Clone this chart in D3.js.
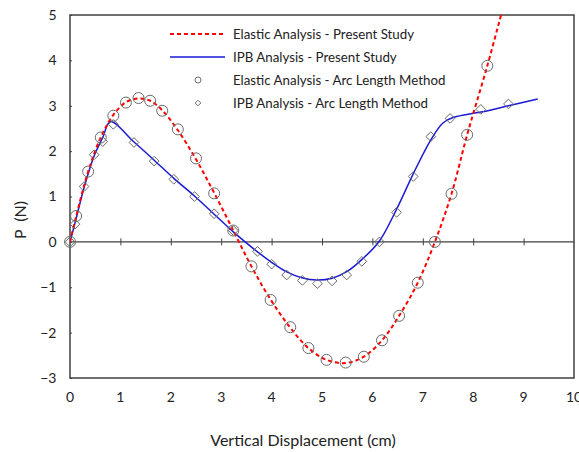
<!DOCTYPE html>
<html>
<head>
<meta charset="utf-8">
<script src="https://cdn.jsdelivr.net/npm/d3@7"></script>
<style>
    body { margin: 0; background: #fff; }
    text { font-family: Lato, "Open Sans", sans-serif; fill: #222; }
</style>
</head>
<body>
<div id="chart"></div>
<script>

// Elastic Analysis - Present Study (dashed red line)
const elasticLine = [
    [0, 0], [0.12, 0.55], [0.36, 1.55], [0.61, 2.3], [0.86, 2.8], [1.11, 3.08], [1.36, 3.16],
    [1.59, 3.11], [1.83, 2.9], [2.14, 2.46], [2.5, 1.82], [2.86, 1.08], [3.24, 0.25],
    [3.6, -0.54], [3.98, -1.27], [4.37, -1.89], [4.73, -2.34], [5.09, -2.6], [5.47, -2.67],
    [5.83, -2.53], [6.19, -2.17], [6.53, -1.63], [6.9, -0.9], [7.24, 0], [7.57, 1.06],
    [7.88, 2.36], [8.28, 3.88], [8.6, 5.2]
];

// IPB Analysis - Present Study (solid blue line)
const ipbLine = [
    [0, 0], [0.1, 0.42], [0.28, 1.2], [0.48, 1.9], [0.65, 2.3], [0.8, 2.65], [1.27, 2.2],
    [1.67, 1.8], [2.06, 1.4], [2.48, 1.0], [2.86, 0.61], [3.24, 0.22], [3.72, -0.22],
    [4.0, -0.45], [4.3, -0.66], [4.6, -0.79], [4.9, -0.84], [5.2, -0.8], [5.5, -0.65],
    [5.8, -0.38], [6.14, 0.02], [6.48, 0.72], [6.81, 1.5], [7.16, 2.25], [7.4, 2.62],
    [7.6, 2.74], [8.15, 2.86], [8.7, 3.0], [9.28, 3.15]
];

// Elastic Analysis - Arc Length Method (circles)
const elasticArc = [
    [0, 0], [0.12, 0.57], [0.36, 1.55], [0.61, 2.3], [0.86, 2.78], [1.11, 3.07], [1.36, 3.17],
    [1.59, 3.11], [1.83, 2.89], [2.14, 2.48], [2.5, 1.84], [2.86, 1.07], [3.24, 0.25],
    [3.6, -0.54], [3.98, -1.28], [4.37, -1.88], [4.73, -2.34], [5.09, -2.6], [5.47, -2.66],
    [5.83, -2.53], [6.19, -2.17], [6.53, -1.63], [6.9, -0.9], [7.24, 0], [7.57, 1.06],
    [7.88, 2.36], [8.28, 3.88]
];

// IPB Analysis - Arc Length Method (diamonds)
const ipbArc = [
    [0, 0], [0.1, 0.39], [0.28, 1.22], [0.48, 1.92], [0.65, 2.21], [0.86, 2.59], [1.27, 2.19],
    [1.67, 1.78], [2.06, 1.38], [2.47, 1.0], [2.86, 0.62], [3.24, 0.25], [3.72, -0.21],
    [4.0, -0.49], [4.3, -0.73], [4.61, -0.85], [4.91, -0.92], [5.2, -0.86], [5.49, -0.73],
    [5.79, -0.43], [6.14, 0], [6.48, 0.65], [6.81, 1.44], [7.16, 2.32], [7.54, 2.72],
    [8.15, 2.92], [8.7, 3.04]
];

const xTicks = [0, 1, 2, 3, 4, 5, 6, 7, 8, 9, 10];
const yTicks = [-3, -2, -1, 0, 1, 2, 3, 4, 5];

const legendItems = [
    {label: "Elastic Analysis - Present Study", type: "dash"},
    {label: "IPB Analysis - Present Study", type: "line"},
    {label: "Elastic Analysis - Arc Length Method", type: "circle"},
    {label: "IPB Analysis - Arc Length Method", type: "diamond"}
];

let margin = {top: 15, right: 5, bottom: 74, left: 70};
let width = 579 - margin.left - margin.right;
let height = 452 - margin.top - margin.bottom;

let svg = d3.select("#chart").append("svg")
    .attr("width", 579)
    .attr("height", 452)
    .append("g")
    .attr("transform", "translate(" + margin.left + "," + margin.top + ")");

svg.append("defs").append("clipPath")
    .attr("id", "clip")
    .append("rect")
    .attr("width", width)
    .attr("height", height);

let x = d3.scaleLinear().domain([0, 10]).range([0, width]);
let y = d3.scaleLinear().domain([-3, 5]).range([height, 0]);

const axisColor = "#404040";

// frame
svg.append("rect")
    .attr("width", width)
    .attr("height", height)
    .attr("fill", "none")
    .attr("stroke", axisColor)
    .attr("stroke-width", 1.5);

// zero line with crossing ticks
let xAxis = svg.append("g")
    .attr("transform", "translate(0," + y(0) + ")")
    .call(d3.axisBottom(x).tickValues(xTicks.slice(1, -1)).tickSize(3.5).tickFormat(""));
xAxis.select(".domain").remove();
xAxis.selectAll(".tick line").attr("y1", -3.5).attr("stroke", axisColor);
svg.append("line")
    .attr("x1", 0).attr("x2", width)
    .attr("y1", y(0)).attr("y2", y(0))
    .attr("stroke", axisColor).attr("stroke-width", 1.2);

// x tick labels below frame
svg.append("g").selectAll("text")
    .data(xTicks)
    .join("text")
    .attr("x", d => x(d))
    .attr("y", height + 24)
    .attr("text-anchor", "middle")
    .attr("font-size", 14)
    .text(d => d);

// y axis ticks and labels
let yAxis = svg.append("g")
    .call(d3.axisLeft(y).tickValues(yTicks).tickSize(2.5).tickPadding(11));
yAxis.select(".domain").remove();
yAxis.selectAll(".tick line").attr("x2", 2).attr("stroke", axisColor);
yAxis.selectAll(".tick text")
    .attr("font-size", 14)
    .attr("font-family", "Lato, sans-serif")
    .attr("fill", "#222");

// axis titles
svg.append("text")
    .attr("x", 233)
    .attr("y", 431)
    .attr("text-anchor", "middle")
    .attr("font-size", 16)
    .text("Vertical Displacement (cm)");

svg.append("text")
    .attr("transform", "translate(-44," + 205 + ") rotate(-90)")
    .attr("text-anchor", "middle")
    .attr("font-size", 16)
    .style("white-space", "pre")
    .text("P  (N)");

// lines
let lineGen = d3.line()
    .curve(d3.curveCatmullRom.alpha(0.5))
    .x(d => x(d[0]))
    .y(d => y(d[1]));

let lines = svg.append("g").attr("clip-path", "url(#clip)");

lines.append("path")
    .datum(ipbLine)
    .attr("d", lineGen)
    .attr("fill", "none")
    .attr("stroke", "#1a1ad6")
    .attr("stroke-width", 1.5);

lines.append("path")
    .datum(elasticLine)
    .attr("d", lineGen)
    .attr("fill", "none")
    .attr("stroke", "#ff0000")
    .attr("stroke-width", 2)
    .attr("stroke-dasharray", "4,3");

// markers
const markerColor = "#6a6a6a";

svg.append("g").selectAll("circle")
    .data(elasticArc)
    .join("circle")
    .attr("cx", d => x(d[0]))
    .attr("cy", d => y(d[1]))
    .attr("r", 5.5)
    .attr("fill", "none")
    .attr("stroke", markerColor)
    .attr("stroke-width", 1);

let diamond = d3.symbol().type(d3.symbolDiamond2).size(60);

svg.append("g").selectAll("path")
    .data(ipbArc)
    .join("path")
    .attr("transform", d => "translate(" + x(d[0]) + "," + y(d[1]) + ")")
    .attr("d", diamond)
    .attr("fill", "none")
    .attr("stroke", markerColor)
    .attr("stroke-width", 1);

// legend
let legend = svg.append("g").attr("transform", "translate(100,19)");
let rowH = 23;

legendItems.forEach((item, i) => {
    let g = legend.append("g").attr("transform", "translate(0," + i * rowH + ")");
    if (item.type === "dash" || item.type === "line") {
        g.append("line")
            .attr("x1", 0).attr("x2", 55)
            .attr("stroke", item.type === "dash" ? "#ff0000" : "#1a1ad6")
            .attr("stroke-width", item.type === "dash" ? 2 : 1.5)
            .attr("stroke-dasharray", item.type === "dash" ? "4,3" : null);
    } else if (item.type === "circle") {
        g.append("circle")
            .attr("cx", 28).attr("r", 3)
            .attr("fill", "none").attr("stroke", markerColor);
    } else {
        g.append("path")
            .attr("transform", "translate(28,0)")
            .attr("d", d3.symbol().type(d3.symbolDiamond2).size(20))
            .attr("fill", "none").attr("stroke", markerColor);
    }
    g.append("text")
        .attr("x", 63)
        .attr("dy", "0.35em")
        .attr("font-size", 13.3)
        .text(item.label);
});

</script>
</body>
</html>
